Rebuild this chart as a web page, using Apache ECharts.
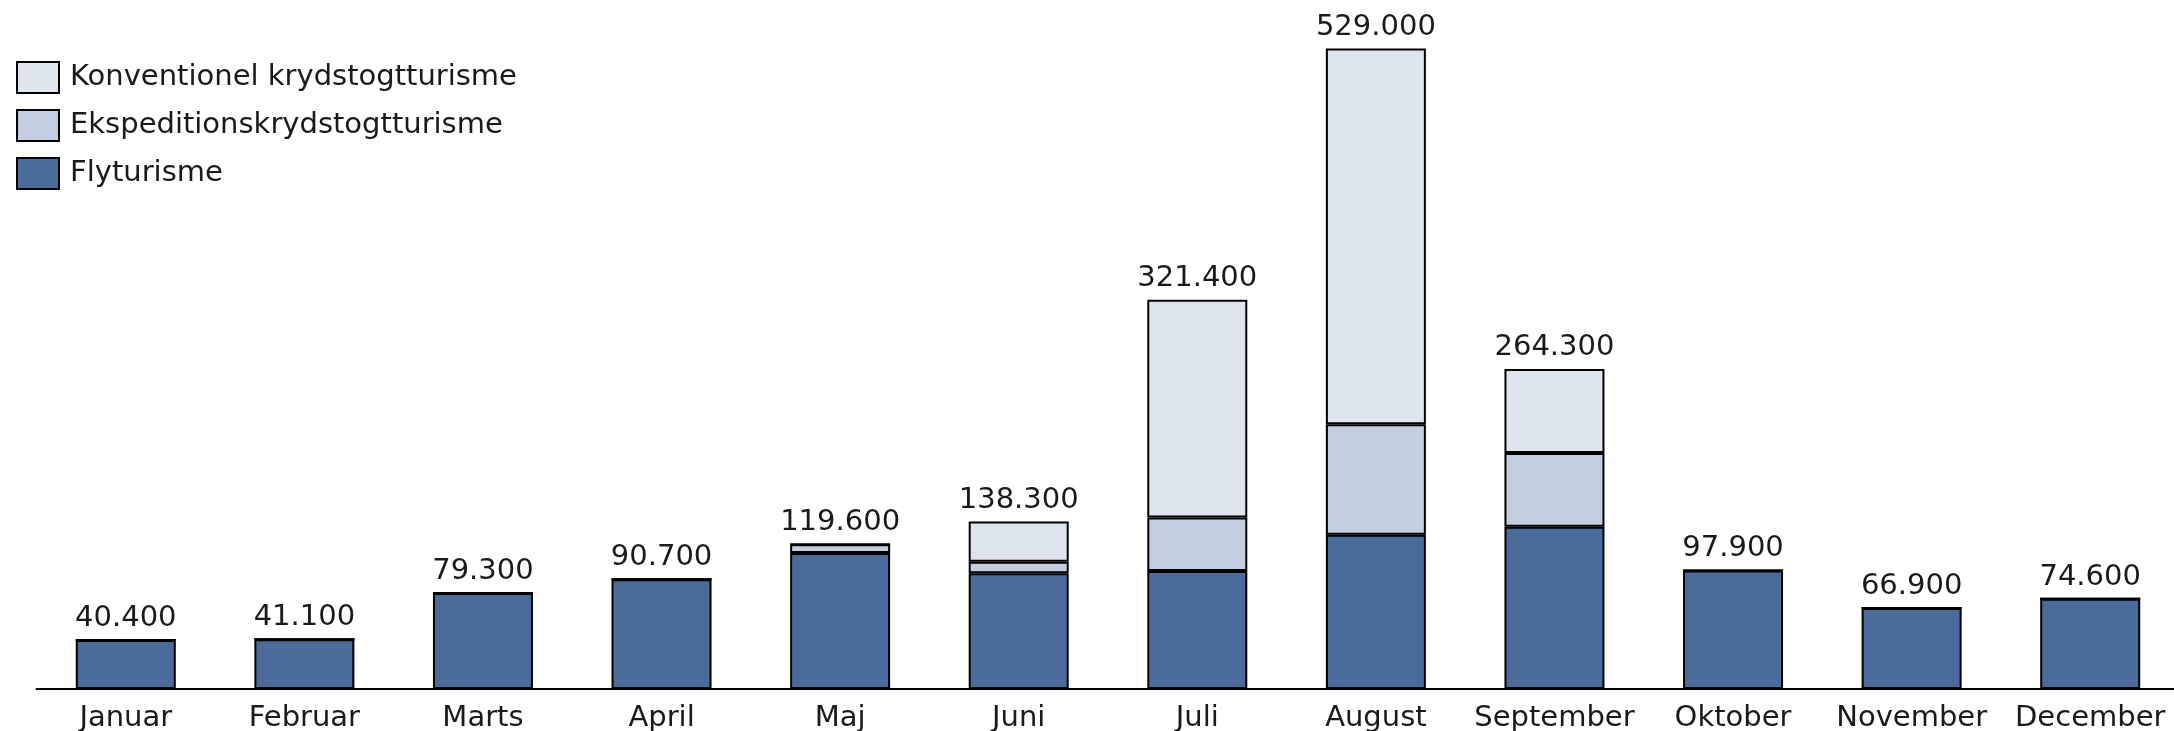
<!DOCTYPE html>
<html>
<head>
<meta charset="utf-8">
<script src="https://cdn.jsdelivr.net/npm/echarts@6/dist/echarts.min.js"></script>
<style>
  html, body { margin: 0; padding: 0; background: #fff; }
  #chart { width: 2174px; height: 731px; }
</style>
</head>
<body>
<div id="chart"></div>
<script>
const months = ['Januar', 'Februar', 'Marts', 'April', 'Maj', 'Juni', 'Juli', 'August', 'September', 'Oktober', 'November', 'December'];
const flyturisme = [40400, 41100, 79300, 90700, 112300, 95500, 97400, 127400, 134000, 97900, 66900, 74600];
const ekspedition = [0, 0, 0, 0, 7300, 9600, 44300, 91300, 60900, 0, 0, 0];
const konventionel = [0, 0, 0, 0, 0, 33200, 179700, 310300, 69400, 0, 0, 0];
const totals = ['40.400', '41.100', '79.300', '90.700', '119.600', '138.300', '321.400', '529.000', '264.300', '97.900', '66.900', '74.600'];

const fontFamily = 'DejaVu Sans';
const textColor = '#1a1a1a';

function stackSeries(name, data, color) {
  return {
    name: name,
    type: 'bar',
    stack: 'total',
    barWidth: 100,
    data: data,
    itemStyle: { color: color, borderColor: '#000', borderWidth: 2 }
  };
}

const chart = echarts.init(document.getElementById('chart'), null, { renderer: 'canvas' });

chart.setOption({
  animation: false,
  textStyle: { fontFamily: fontFamily },
  legend: {
    orient: 'vertical',
    left: 16,
    top: 61,
    padding: 0,
    itemWidth: 42,
    itemHeight: 31,
    itemGap: 15,
    icon: 'rect',
    data: ['Konventionel krydstogtturisme', 'Ekspeditionskrydstogtturisme', 'Flyturisme'],
    textStyle: { fontSize: 29, color: textColor, fontFamily: fontFamily, padding: [8, 0, 0, 6] }
  },
  // the december label runs to the edge, keep the grid where it is
  grid: { left: 36.5, top: 48.5, width: 2143, height: 640.5, outerBoundsMode: 'none', containLabel: false },
  xAxis: {
    type: 'category',
    data: months,
    axisLine: { lineStyle: { color: '#000', width: 2 } },
    axisTick: { show: false },
    axisLabel: { fontSize: 29, color: textColor, fontFamily: fontFamily, margin: 15, interval: 0 }
  },
  yAxis: {
    type: 'value',
    min: 0,
    max: 529000,
    show: false,
    splitLine: { show: false }
  },
  series: [
    stackSeries('Flyturisme', flyturisme, '#4b6b9b'),
    stackSeries('Ekspeditionskrydstogtturisme', ekspedition, '#c3cee0'),
    stackSeries('Konventionel krydstogtturisme', konventionel, '#dfe5ef'),
    {
      name: 'total',
      type: 'bar',
      stack: 'total',
      barWidth: 100,
      data: months.map(() => 0),
      itemStyle: { color: 'rgba(0,0,0,0)', borderWidth: 0 },
      label: {
        show: true,
        position: 'top',
        distance: 7,
        fontSize: 29,
        color: textColor,
        fontFamily: fontFamily,
        formatter: (p) => totals[p.dataIndex]
      }
    }
  ]
});
</script>
</body>
</html>
